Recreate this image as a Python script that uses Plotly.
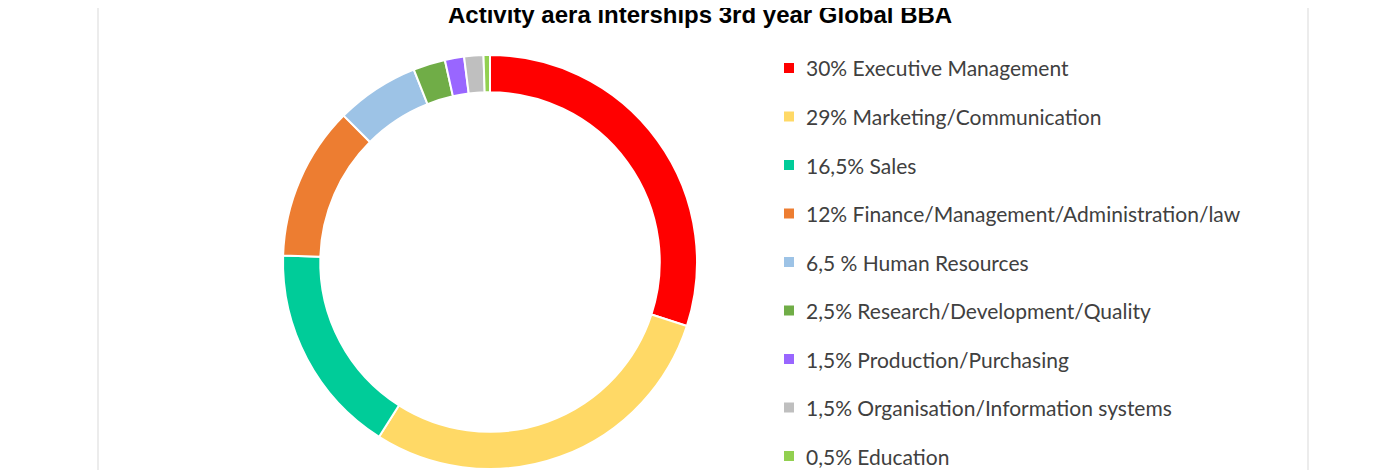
import plotly.graph_objects as go

labels = ["30% Executive Management", "29% Marketing/Communication", "16,5% Sales",
          "12% Finance/Management/Administration/law", "6,5 % Human Resources",
          "2,5% Research/Development/Quality", "1,5% Production/Purchasing",
          "1,5% Organisation/Information systems", "0,5% Education"]
values = [30, 29, 16.5, 12, 6.5, 2.5, 1.5, 1.5, 0.5]
colors = ["#FF0000", "#FFD966", "#00CC99", "#ED7D31", "#9DC3E6",
          "#70AD47", "#9966FF", "#BFBFBF", "#92D050"]

W, H = 1400, 470
off = 8  # page body margin
cx, cy, r = 490 - off, 262 - off, 207

fig = go.Figure(go.Pie(
    labels=labels, values=values, hole=0.82, sort=False, direction="clockwise",
    rotation=0, textinfo="none", hoverinfo="label",
    marker=dict(colors=colors, line=dict(color="white", width=2)),
    domain=dict(x=[(cx - r) / W, (cx + r) / W],
                y=[(H - cy - r) / H, (H - cy + r) / H]),
    showlegend=False,
))

shapes = [
    dict(type="line", xref="paper", yref="paper", x0=(98 - off) / W, x1=(98 - off) / W,
         y0=0, y1=1, line=dict(color="#D9D9D9", width=1)),
    dict(type="line", xref="paper", yref="paper", x0=(1308 - off) / W, x1=(1308 - off) / W,
         y0=0, y1=1, line=dict(color="#D9D9D9", width=1)),
]
annotations = [dict(text="<b>Activity aera interships 3rd year Global BBA</b>",
                    xref="paper", yref="paper", x=(700 - off) / W, y=1 - (15 - off) / H,
                    xanchor="center", yanchor="middle", showarrow=False,
                    font=dict(family="Arial", size=24, color="black"))]
for i, (lab, col) in enumerate(zip(labels, colors)):
    y = 68 + i * 48.5 - off
    shapes.append(dict(type="rect", xref="paper", yref="paper",
                       x0=(784 - off) / W, x1=(794 - off) / W,
                       y0=1 - (y + 5) / H, y1=1 - (y - 5) / H,
                       fillcolor=col, line=dict(width=0)))
    annotations.append(dict(text=lab, xref="paper", yref="paper", x=(804 - off) / W,
                            y=1 - y / H, xanchor="left", yanchor="middle", showarrow=False,
                            font=dict(family="Lato", size=21, color="#404040")))

fig.update_layout(width=W, height=H, margin=dict(l=0, r=0, t=0, b=0),
                  paper_bgcolor="white", plot_bgcolor="white",
                  shapes=shapes, annotations=annotations)
fig.write_html("out.html")
